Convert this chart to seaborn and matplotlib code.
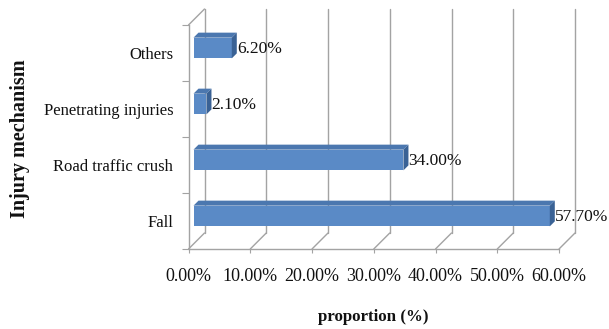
import numpy as np
import pandas as pd
import matplotlib
matplotlib.use("Agg")
import matplotlib.pyplot as plt
import seaborn as sns
from matplotlib.patches import Polygon
from matplotlib.lines import Line2D
from matplotlib.transforms import IdentityTransform, offset_copy

# Injury mechanism shares
mechanisms = ["Others", "Penetrating injuries", "Road traffic crush", "Fall"]
proportions = [6.2, 2.1, 34.0, 57.7]
value_labels = ["6.20%", "2.10%", "34.00%", "57.70%"]
x_ticks = [0, 10, 20, 30, 40, 50, 60]
x_tick_labels = ["0.00%", "10.00%", "20.00%", "30.00%", "40.00%", "50.00%", "60.00%"]

FRONT = "#5a8ac6"
TOP = "#4b77af"
SIDE = "#3a6295"
GRID = "#a3a3a3"
TEXT = "#111111"

sns.set_theme(style="white")
plt.rcParams["font.family"] = ["Liberation Serif", "DejaVu Serif"]

W, H, DPI = 609, 329, 100
fig = plt.figure(figsize=(W / DPI, H / DPI), dpi=DPI)
fig.patch.set_facecolor("white")
ax = fig.add_axes([188.5 / W, 1 - 249 / H, 370.5 / W, 224 / H])
ax.set_facecolor("none")

df = pd.DataFrame({"mechanism": mechanisms, "proportion": proportions})
sns.barplot(data=df, x="proportion", y="mechanism", orient="h", order=mechanisms,
            color=FRONT, saturation=1, width=0.37, linewidth=0, ax=ax, zorder=4)
ax.set_xlim(0, 60)
ax.set_ylim(len(mechanisms) - 0.5, -0.5)

# pseudo-3D geometry (pixels): wall depth and bar placement/depth
DX, DY = 16, 16
BF, BD = 5, 5


def px(x, y):
    return ax.transData.transform((x, y))


ybot, ytop = len(mechanisms) - 0.5, -0.5

# back wall, floor and left wall grid
for xt in x_ticks:
    fx, fy = px(xt, ybot)
    _, ty = px(xt, ytop)
    ax.add_artist(Line2D([fx, fx + DX], [fy, fy + DY], color=GRID, lw=1,
                         transform=IdentityTransform(), clip_on=False, zorder=1))
    ax.add_artist(Line2D([fx + DX, fx + DX], [fy + DY, ty + DY], color=GRID, lw=1,
                         transform=IdentityTransform(), clip_on=False, zorder=1))
lx, ly = px(0, ytop)
ax.add_artist(Line2D([lx, lx + DX], [ly, ly + DY], color=GRID, lw=1,
                     transform=IdentityTransform(), clip_on=False, zorder=1))

# shift front faces into the depth and add top/side faces
shift = offset_copy(ax.transData, fig=fig, x=BF, y=BF, units="dots")
for p in ax.patches[:len(mechanisms)]:
    x0, y0, w, h = p.get_x(), p.get_y(), p.get_width(), p.get_height()
    (L, B), (R, T) = px(x0, y0 + h), px(x0 + w, y0)
    L, R, B, T = L + BF, R + BF, B + BF, T + BF
    p.set_transform(shift)
    p.set_clip_on(False)
    ax.add_artist(Polygon([(L, T), (R, T), (R + BD, T + BD), (L + BD, T + BD)],
                          closed=True, facecolor=TOP, edgecolor="none",
                          transform=IdentityTransform(), clip_on=False, zorder=4))
    ax.add_artist(Polygon([(R, B), (R, T), (R + BD, T + BD), (R + BD, B + BD)],
                          closed=True, facecolor=SIDE, edgecolor="none",
                          transform=IdentityTransform(), clip_on=False, zorder=4))

# value labels
lab_tr = offset_copy(ax.transData, fig=fig, x=BF + BD, y=4, units="dots")
for i, (v, t) in enumerate(zip(proportions, value_labels)):
    ax.text(v, i, t, transform=lab_tr, ha="left", va="center", fontsize=12.5,
            color=TEXT, zorder=5, clip_on=False)

# axes styling
for s in ["top", "right"]:
    ax.spines[s].set_visible(False)
for s in ["left", "bottom"]:
    ax.spines[s].set_color(GRID)
    ax.spines[s].set_linewidth(1)
    ax.spines[s].set_zorder(2)

ax.set_xticks(x_ticks)
ax.set_xticklabels(x_tick_labels, fontsize=13, color=TEXT)
ax.tick_params(axis="x", length=3, width=0.8, color=GRID, pad=11, bottom=True)
ax.set_yticks(range(len(mechanisms)))
ax.set_yticklabels(mechanisms, fontsize=12, color=TEXT)
ax.tick_params(axis="y", which="major", length=0, pad=11)
ax.set_yticks(np.arange(-0.5, len(mechanisms), 1.0), minor=True)
ax.tick_params(axis="y", which="minor", length=5, width=0.8, color=GRID, left=True)
ax.grid(False)

ax.set_xlabel("proportion (%)", fontsize=12.2, fontweight="bold", color=TEXT)
ax.xaxis.set_label_coords(0.5, (249 - 317) / 224)
ax.xaxis.label.set_va("center")
ax.set_ylabel("Injury mechanism", fontsize=14.5, fontweight="bold", color=TEXT)
ax.yaxis.set_label_coords((20 - 188.5) / 370.5, (249 - 138.5) / 224)
ax.yaxis.label.set_va("center")

fig.savefig("out.png", dpi=DPI, facecolor="white")
